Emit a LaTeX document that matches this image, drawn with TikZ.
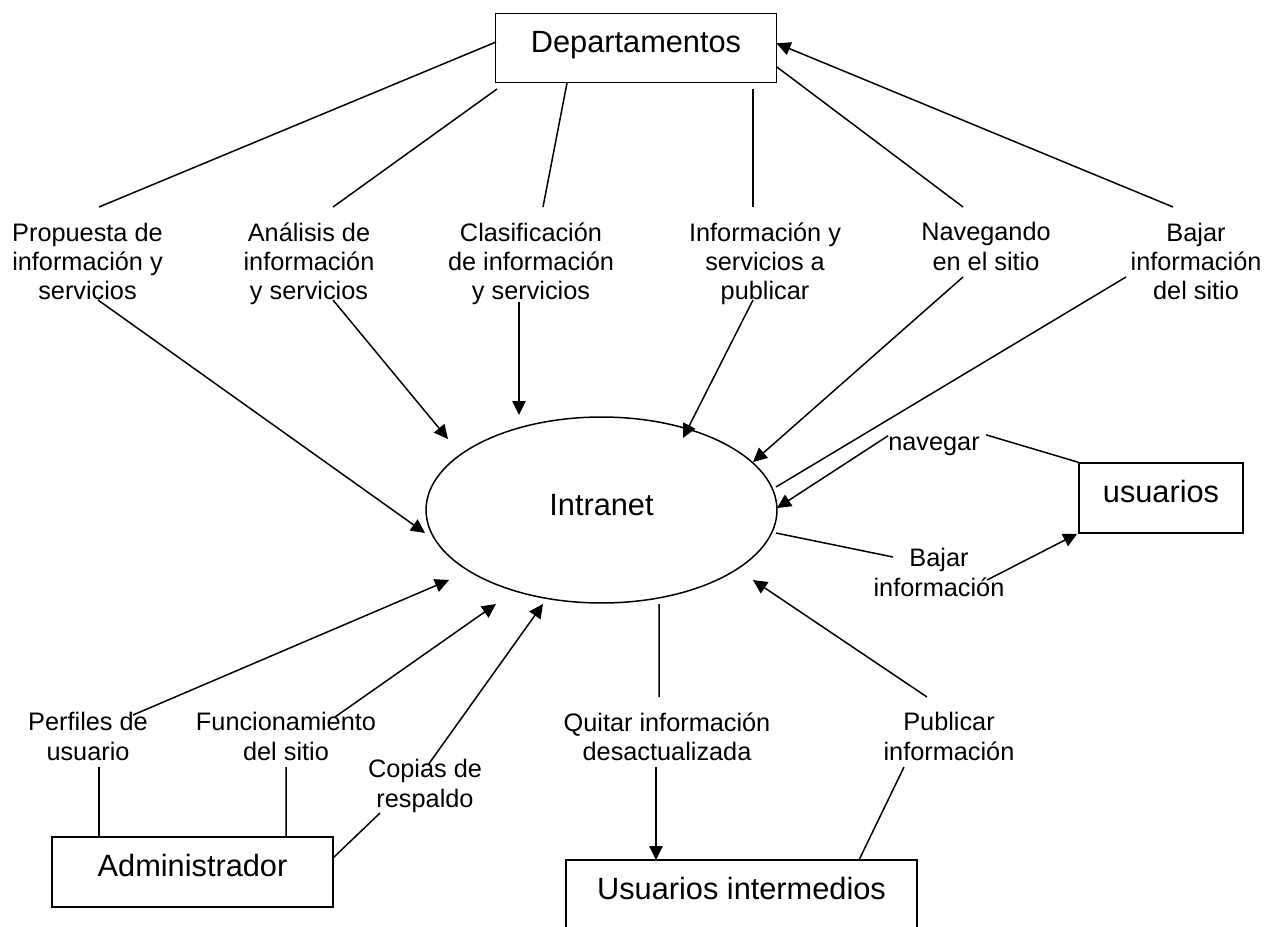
\documentclass[tikz,border=0pt]{standalone}
\usepackage{fontspec}
\setmainfont{Liberation Sans}
\usetikzlibrary{shapes.geometric,arrows.meta,calc}

\begin{document}
\begin{tikzpicture}[x=0.02cm,y=-0.02cm,
  every path/.style={line width=0.85pt},
  flow/.style={-{Triangle[length=0.28cm,width=0.27cm]}},
  entity/.style={draw,rectangle,inner sep=0pt,
    font=\fontsize{17.5}{21}\selectfont,text height=13pt,text depth=7.9pt},
  process/.style={draw,ellipse,inner sep=0pt,minimum width=7.02cm,minimum height=3.72cm,
    font=\fontsize{17.5}{21}\selectfont,text height=13pt,text depth=6.2pt},
  flowlabel/.style={align=center,inner sep=0pt,font=\fontsize{14.4}{16.6}\selectfont}]

\useasboundingbox (0,0) rectangle (1266,926);

% external entities and the central process
\node[entity,minimum width=5.62cm,minimum height=1.39cm] (dep) at (636,48) {Departamentos};
\node[process] (intr) at (601.5,510) {Intranet};
\node[entity,minimum width=3.28cm,minimum height=1.40cm] (usu) at (1161,498) {usuarios};
\node[entity,minimum width=5.62cm,minimum height=1.40cm] (adm) at (192.5,872) {Administrador};
\node[entity,minimum width=7.02cm,minimum height=1.40cm] (uint) at (741.5,895) {Usuarios intermedios};

% data flow labels
\node[flowlabel] (lprop) at (87.5,261.5) {Propuesta de\\información y\\servicios};
\node[flowlabel] (lanal) at (309,264) {Análisis de\\información\\y servicios};
\node[flowlabel] (lclas) at (531,264) {Clasificación\\de información\\y servicios};
\node[flowlabel] (linfo) at (765,264) {Información y\\servicios a\\publicar};
\node[flowlabel] (lnav) at (986,246.5) {Navegando\\en el sitio};
\node[flowlabel] (lbajs) at (1196,261.5) {Bajar\\información\\del sitio};
\node[flowlabel,anchor=base] (lnavg) at (934,450) {navegar};
\node[flowlabel] (lbaji) at (939,572.5) {Bajar\\información};
\node[flowlabel] (lperf) at (88,736.5) {Perfiles de\\usuario};
\node[flowlabel] (lfunc) at (286,736.5) {Funcionamiento\\del sitio};
\node[flowlabel] (lcop) at (425,786) {Copias de\\respaldo};
\node[flowlabel] (lquit) at (667,736.5) {Quitar información\\desactualizada};
\node[flowlabel] (lpub) at (949,736.5) {Publicar\\información};

% Departamentos -> Intranet
\draw ($(dep)+(-140,-6)$) -- ($(lprop)+(11.5,-54.5)$);
\draw[flow] ($(lprop)+(10.5,38.5)$) -- ($(intr)+(-176.5,23)$);
\draw ($(dep)+(-139,41)$) -- ($(lanal)+(24,-57)$);
\draw[flow] ($(lanal)+(24,36)$) -- ($(intr)+(-153.5,-71)$);
\draw ($(dep)+(-69,35)$) -- ($(lclas)+(12,-57)$);
\draw[flow] ($(lclas)+(-12,38)$) -- ($(intr)+(-82.5,-95)$);
\draw ($(dep)+(117,41)$) -- ($(linfo)+(-12,-57)$);
\draw[flow] ($(linfo)+(-12,36)$) -- ($(intr)+(81.5,-72)$);
\draw ($(dep)+(140.5,18.7)$) -- ($(lnav)+(-23,-39.5)$);
\draw[flow] ($(lnav)+(-23,30.5)$) -- ($(intr)+(151.5,-48)$);

% Intranet -> Departamentos
\draw ($(intr)+(174.5,-23)$) -- ($(lbajs)+(-70,15.5)$);
\draw[flow] ($(lbajs)+(-23,-54.5)$) -- ($(dep)+(140.5,-4.7)$);

% usuarios
\draw (usu.north west) -- ($(lnavg)+(52,-11)$);
\draw[flow] ($(lnavg)+(-46,-10)$) -- ($(intr)+(175.5,-2)$);
\draw ($(intr)+(174.5,23)$) -- ($(lbaji)+(-46,-15.5)$);
\draw[flow] ($(lbaji)+(48,7.5)$) -- ($(usu.south west)+(-1,0)$);

% Administrador -> Intranet
\draw ($(adm)+(-93.5,-35)$) -- ($(lperf)+(11,30.5)$);
\draw[flow] ($(lperf)+(45,-21.5)$) -- ($(intr)+(-152.5,70)$);
\draw ($(adm)+(93.5,-35)$) -- ($(lfunc)+(0,30.5)$);
\draw[flow] ($(lfunc)+(49,-19.5)$) -- ($(intr)+(-105.5,94)$);
\draw ($(adm)+(140.5,-14)$) -- ($(lcop)+(-45,27)$);
\draw[flow] ($(lcop)+(3,-21)$) -- ($(intr)+(-58.5,94)$);

% Usuarios intermedios
\draw ($(intr)+(57.5,94)$) -- ($(lquit)+(-8,-39.5)$);
\draw[flow] ($(lquit)+(-11,30.5)$) -- ($(uint)+(-85.5,-35)$);
\draw ($(uint)+(117.5,-35)$) -- ($(lpub)+(-45,30.5)$);
\draw[flow] ($(lpub)+(-22,-39.5)$) -- ($(intr)+(151.5,70)$);

\end{tikzpicture}
\end{document}
